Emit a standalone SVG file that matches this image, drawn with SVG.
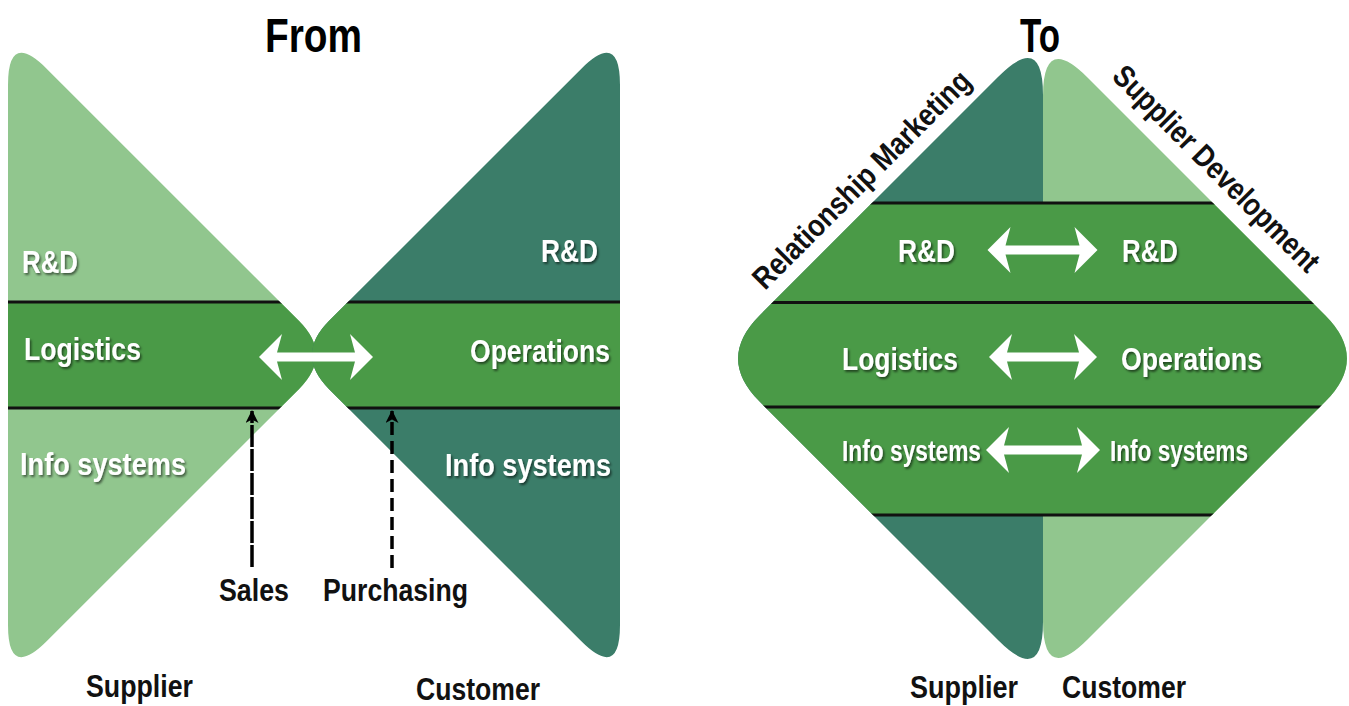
<svg xmlns="http://www.w3.org/2000/svg" width="1349" height="706" viewBox="0 0 1349 706">
  <style>
    text { font-family: "Liberation Sans Narrow", "Liberation Sans", Arial, sans-serif; font-weight: bold; }
    .lbl { fill: #ffffff; font-size: 32px; filter: url(#sh); }
    .lbl2 { fill: #ffffff; font-size: 29px; filter: url(#sh); }
    .cap { fill: #111111; font-size: 32px; }
    .rot { fill: #111111; font-size: 31px; }
    .title { fill: #000000; font-size: 49px; }
    .light { fill: #91c68e; }
    .teal { fill: #3b7d69; }
    .mid { fill: #4a9a47; }
    .sep { stroke: #111111; stroke-width: 3; }
    .arr { fill: #ffffff; }
    .dash { stroke: #000000; stroke-width: 3.5; fill: none; marker-end: url(#head); }
  </style>
  <defs>
    <filter id="sh" x="-10%" y="-20%" width="130%" height="150%">
      <feDropShadow dx="1.5" dy="2" stdDeviation="1" flood-color="#000000" flood-opacity="0.55"/>
    </filter>
    <marker id="head" markerUnits="userSpaceOnUse" markerWidth="14" markerHeight="13" refX="12" refY="6.5" orient="auto">
      <path d="M0,0 L13,6.5 L0,13 L3.5,6.5 Z" fill="#000000"/>
    </marker>
    <clipPath id="cL">
      <path d="M 8 85 Q 8 30 46.9 68.9 L 299.1 321.1 Q 333 355 299.1 388.9 L 46.9 641.1 Q 8 680 8 625 Z"/>
    </clipPath>
    <clipPath id="cR">
      <path d="M 620 85 Q 620 30 581.1 68.9 L 328.9 321.1 Q 295 355 328.9 388.9 L 581.1 641.1 Q 620 680 620 625 Z"/>
    </clipPath>
    <clipPath id="cS">
      <path d="M 1043 95 Q 1043 32 998.5 76.5 L 759.6 315.4 Q 716.5 358.5 759.6 401.6 L 998.5 640.5 Q 1043 685 1043 622 Z"/>
    </clipPath>
    <clipPath id="cC">
      <path d="M 1043 96 Q 1043 33 1087.5 77.5 L 1325.4 315.4 Q 1368.5 358.5 1325.4 401.6 L 1087.5 639.5 Q 1043 684 1043 621 Z"/>
    </clipPath>
  </defs>

  <rect x="0" y="0" width="1349" height="706" fill="#ffffff"/>

  <!-- Titles -->
  <text id="title-from" class="title" x="265" y="52" textLength="97" lengthAdjust="spacingAndGlyphs">From</text>
  <text id="title-to" class="title" x="1020" y="52" textLength="40" lengthAdjust="spacingAndGlyphs">To</text>

  <!-- FROM: supplier triangle -->
  <g id="from-supplier">
    <g clip-path="url(#cL)">
      <rect class="light" x="0" y="20" width="340" height="670"/>
      <rect class="mid" x="0" y="303" width="340" height="104"/>
      <line class="sep" x1="0" y1="302" x2="340" y2="302"/>
      <line class="sep" x1="0" y1="408" x2="340" y2="408"/>
    </g>
    <text class="lbl" x="22" y="273" textLength="56" lengthAdjust="spacingAndGlyphs">R&amp;D</text>
    <text class="lbl" x="24" y="360" textLength="117" lengthAdjust="spacingAndGlyphs">Logistics</text>
    <text class="lbl" x="20" y="475" textLength="166" lengthAdjust="spacingAndGlyphs">Info systems</text>
    <text class="cap" x="86" y="697" textLength="107" lengthAdjust="spacingAndGlyphs">Supplier</text>
  </g>

  <!-- FROM: customer triangle -->
  <g id="from-customer">
    <g clip-path="url(#cR)">
      <rect class="teal" x="285" y="20" width="340" height="670"/>
      <rect class="mid" x="285" y="303" width="340" height="104"/>
      <line class="sep" x1="285" y1="302" x2="625" y2="302"/>
      <line class="sep" x1="285" y1="408" x2="625" y2="408"/>
    </g>
    <text class="lbl" x="541" y="262" textLength="57" lengthAdjust="spacingAndGlyphs">R&amp;D</text>
    <text class="lbl" x="470" y="362" textLength="140" lengthAdjust="spacingAndGlyphs">Operations</text>
    <text class="lbl" x="445" y="476" textLength="166" lengthAdjust="spacingAndGlyphs">Info systems</text>
    <text class="cap" x="416" y="700" textLength="124" lengthAdjust="spacingAndGlyphs">Customer</text>
  </g>

  <!-- FROM: connectors -->
  <g id="from-connectors">
    <polygon class="arr" points="259,357 282,334 277,352.5 355,352.5 350,334 373,357 350,380 355,361.5 277,361.5 282,380"/>
    <line class="dash" x1="252" y1="567" x2="252" y2="411" stroke-dasharray="22 2"/>
    <line class="dash" x1="392" y1="568" x2="392" y2="411" stroke-dasharray="13 6"/>
  </g>
  <text id="lbl-sales" class="cap" x="219" y="601" textLength="70" lengthAdjust="spacingAndGlyphs">Sales</text>
  <text id="lbl-purchasing" class="cap" x="323" y="601" textLength="145" lengthAdjust="spacingAndGlyphs">Purchasing</text>

  <!-- TO: supplier half -->
  <g id="to-supplier">
    <g clip-path="url(#cS)">
      <rect class="teal" x="710" y="25" width="335" height="665"/>
      <rect class="mid" x="710" y="203" width="335" height="312"/>
      <line class="sep" x1="710" y1="203" x2="1045" y2="203"/>
      <line class="sep" x1="710" y1="302.5" x2="1045" y2="302.5"/>
      <line class="sep" x1="710" y1="407" x2="1045" y2="407"/>
      <line class="sep" x1="710" y1="515" x2="1045" y2="515"/>
    </g>
    <text class="lbl" x="898" y="262" textLength="57" lengthAdjust="spacingAndGlyphs">R&amp;D</text>
    <text class="lbl" x="842" y="370" textLength="116" lengthAdjust="spacingAndGlyphs">Logistics</text>
    <text class="lbl2" x="842" y="461" textLength="139" lengthAdjust="spacingAndGlyphs">Info systems</text>
    <text class="cap" x="910" y="698" textLength="108" lengthAdjust="spacingAndGlyphs">Supplier</text>
    <text class="rot" x="869" y="187" text-anchor="middle" transform="rotate(-45 869 187)" textLength="294" lengthAdjust="spacingAndGlyphs">Relationship Marketing</text>
  </g>

  <!-- TO: customer half -->
  <g id="to-customer">
    <g clip-path="url(#cC)">
      <rect class="light" x="1041" y="25" width="335" height="665"/>
      <rect class="mid" x="1041" y="203" width="335" height="312"/>
      <line class="sep" x1="1041" y1="203" x2="1376" y2="203"/>
      <line class="sep" x1="1041" y1="302.5" x2="1376" y2="302.5"/>
      <line class="sep" x1="1041" y1="407" x2="1376" y2="407"/>
      <line class="sep" x1="1041" y1="515" x2="1376" y2="515"/>
    </g>
    <text class="lbl" x="1122" y="262" textLength="56" lengthAdjust="spacingAndGlyphs">R&amp;D</text>
    <text class="lbl" x="1121" y="370" textLength="141" lengthAdjust="spacingAndGlyphs">Operations</text>
    <text class="lbl2" x="1110" y="461" textLength="138" lengthAdjust="spacingAndGlyphs">Info systems</text>
    <text class="cap" x="1062" y="698" textLength="124" lengthAdjust="spacingAndGlyphs">Customer</text>
    <text class="rot" x="1209" y="176" text-anchor="middle" transform="rotate(45 1209 176)" textLength="278" lengthAdjust="spacingAndGlyphs">Supplier Development</text>
  </g>

  <!-- TO: connectors -->
  <g id="to-connectors">
    <polygon class="arr" points="987.5,250 1010.5,227 1005.5,245.5 1079.5,245.5 1074.5,227 1097.5,250 1074.5,273 1079.5,254.5 1005.5,254.5 1010.5,273"/>
    <polygon class="arr" points="989,357 1012,334 1007,352.5 1079,352.5 1074,334 1097,357 1074,380 1079,361.5 1007,361.5 1012,380"/>
    <polygon class="arr" points="986,450 1009,427 1004,445.5 1082,445.5 1077,427 1100,450 1077,473 1082,454.5 1004,454.5 1009,473"/>
  </g>
</svg>
